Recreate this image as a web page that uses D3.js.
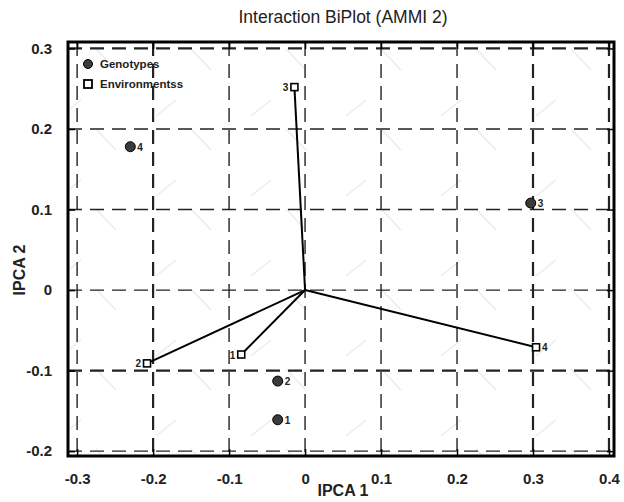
<!DOCTYPE html>
<meta charset="utf-8">
<script src="https://d3js.org/d3.v7.min.js"></script>
<style>
body { margin: 0; background: #fff; }
text { font-family: "Liberation Sans Narrow", "Liberation Sans", Arial, sans-serif; }
</style>
<body>
<div id="chart"></div>
<script>

// genotypes (IPCA 1, IPCA 2)
const genoNames = ["1", "2", "3", "4"];
const genoX = [-0.036, -0.036, 0.297, -0.230];
const genoY = [-0.161, -0.113, 0.108, 0.178];

// environments
const envNames = ["1", "2", "3", "4"];
const envX = [-0.084, -0.208, -0.014, 0.304];
const envY = [-0.080, -0.091, 0.252, -0.071];

const xTicks = [-0.3, -0.2, -0.1, 0, 0.1, 0.2, 0.3, 0.4];
const yTicks = [-0.2, -0.1, 0, 0.1, 0.2, 0.3];
const heavyX = [-0.2, 0.3, 0.4];
const heavyY = [-0.1, 0.3];

const W = 624, H = 502;
const margin = {top: 42, right: 10, bottom: 46, left: 68};
const width = W - margin.left - margin.right,
    height = H - margin.top - margin.bottom;

const svg = d3.select("#chart").append("svg")
    .attr("width", W).attr("height", H);

// faint watermark strokes in the background
const defs = svg.append("defs");
const pat = defs.append("pattern")
    .attr("id", "wm")
    .attr("patternUnits", "userSpaceOnUse")
    .attr("width", 95).attr("height", 80)
    .attr("x", margin.left).attr("y", margin.top);
pat.append("path").attr("d", "M20,32 L40,16").attr("stroke", "#ebebeb").attr("stroke-width", 1.5);
pat.append("path").attr("d", "M55,45 L75,66").attr("stroke", "#ebebeb").attr("stroke-width", 1.5);

const g = svg.append("g")
    .attr("transform", `translate(${margin.left},${margin.top})`);

const x = d3.scaleLinear().domain([-0.312, 0.4066]).range([0, width]);
const y = d3.scaleLinear().domain([-0.206, 0.308]).range([height, 0]);

g.append("rect").attr("width", width).attr("height", height).attr("fill", "url(#wm)");

// grid lines
g.selectAll(".vgrid").data(xTicks).join("line")
    .attr("x1", d => x(d)).attr("x2", d => x(d))
    .attr("y1", 0).attr("y2", height)
    .attr("stroke", "#222")
    .attr("stroke-width", d => heavyX.includes(d) ? 2.2 : 1.4)
    .attr("stroke-dasharray", "14,8");

g.selectAll(".hgrid").data(yTicks).join("line")
    .attr("y1", d => y(d)).attr("y2", d => y(d))
    .attr("x1", 0).attr("x2", width)
    .attr("stroke", "#222")
    .attr("stroke-width", d => heavyY.includes(d) ? 2.2 : 1.4)
    .attr("stroke-dasharray", "14,8");

// axes with inner ticks
const fmt = d => String(d);
const xAx = g.append("g").attr("transform", `translate(0,${height})`)
    .call(d3.axisBottom(x).tickValues(xTicks).tickSizeInner(-7).tickSizeOuter(0).tickPadding(17).tickFormat(fmt));
const xAxTop = g.append("g")
    .call(d3.axisTop(x).tickValues(xTicks).tickSizeInner(-7).tickSizeOuter(0).tickFormat(""));
const yAx = g.append("g")
    .call(d3.axisLeft(y).tickValues(yTicks).tickSizeInner(-7).tickSizeOuter(0).tickPadding(16).tickFormat(fmt));
const yAxR = g.append("g").attr("transform", `translate(${width},0)`)
    .call(d3.axisRight(y).tickValues(yTicks).tickSizeInner(-7).tickSizeOuter(0).tickFormat(""));

[xAx, xAxTop, yAx, yAxR].forEach(a => {
  a.select(".domain").remove();
  a.selectAll(".tick line").attr("stroke", "#000").attr("stroke-width", 1.5);
  a.selectAll("text").attr("font-size", 15).attr("font-weight", "bold").attr("fill", "#222");
});

// frame
g.append("rect").attr("width", width).attr("height", height)
    .attr("fill", "none").attr("stroke", "#000").attr("stroke-width", 3);

// vectors from origin to environments
g.selectAll(".vec").data(envX).join("line")
    .attr("x1", x(0)).attr("y1", y(0))
    .attr("x2", d => x(d)).attr("y2", (d, i) => y(envY[i]))
    .attr("stroke", "#000").attr("stroke-width", 2);

// genotypes
g.selectAll(".geno").data(genoX).join("circle")
    .attr("cx", d => x(d)).attr("cy", (d, i) => y(genoY[i]))
    .attr("r", 5).attr("fill", "#3a3a3a").attr("stroke", "#000").attr("stroke-width", 1);
g.selectAll(".genoLab").data(genoNames).join("text")
    .attr("x", (d, i) => x(genoX[i]) + 7).attr("y", (d, i) => y(genoY[i]) + 4)
    .attr("font-size", 10).attr("font-weight", "bold").attr("fill", "#222")
    .text(d => d);

// environments
g.selectAll(".env").data(envX).join("rect")
    .attr("x", d => x(d) - 3.5).attr("y", (d, i) => y(envY[i]) - 3.5)
    .attr("width", 7).attr("height", 7)
    .attr("fill", "#fff").attr("stroke", "#000").attr("stroke-width", 1.6);
g.selectAll(".envLab").data(envNames).join("text")
    .attr("x", (d, i) => d === "4" ? x(envX[i]) + 6 : x(envX[i]) - 6)
    .attr("y", (d, i) => y(envY[i]) + 4)
    .attr("text-anchor", d => d === "4" ? "start" : "end")
    .attr("font-size", 10).attr("font-weight", "bold").attr("fill", "#222")
    .text(d => d);

// legend
const leg = g.append("g").attr("transform", "translate(20,22)");
leg.append("circle").attr("cx", 0).attr("cy", 0).attr("r", 4.5)
    .attr("fill", "#3a3a3a").attr("stroke", "#000");
leg.append("text").attr("x", 12).attr("y", 4).text("Genotypes")
    .attr("font-size", 11.5).attr("font-weight", "bold").attr("fill", "#222");
leg.append("rect").attr("x", -4).attr("y", 16).attr("width", 8).attr("height", 8)
    .attr("fill", "#fff").attr("stroke", "#000").attr("stroke-width", 1.8);
leg.append("text").attr("x", 12).attr("y", 24).text("Environmentss")
    .attr("font-size", 11.5).attr("font-weight", "bold").attr("fill", "#222");

// titles
svg.append("text").attr("x", 343).attr("y", 23).attr("text-anchor", "middle")
    .attr("font-size", 17.5).attr("fill", "#222").text("Interaction BiPlot (AMMI 2)");
svg.append("text").attr("x", 343).attr("y", 496).attr("text-anchor", "middle")
    .attr("font-size", 16).attr("font-weight", "bold").attr("fill", "#222").text("IPCA 1");
svg.append("text").attr("transform", "translate(25,270) rotate(-90)").attr("text-anchor", "middle")
    .attr("font-size", 16).attr("font-weight", "bold").attr("fill", "#222").text("IPCA 2");

</script>
</body>
